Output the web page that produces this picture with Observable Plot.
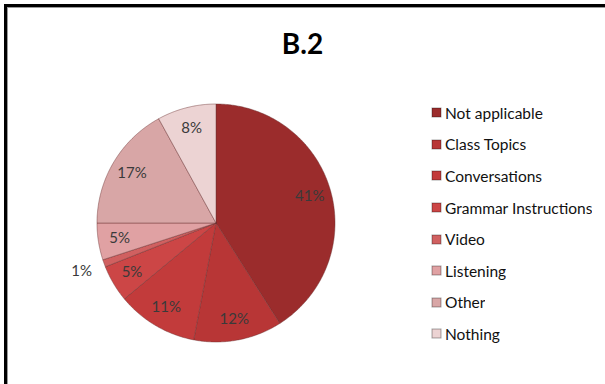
<!DOCTYPE html>
<html><head><meta charset="utf-8">
<script src="https://cdn.jsdelivr.net/npm/d3@7"></script>
<script src="https://cdn.jsdelivr.net/npm/@observablehq/plot@0.6"></script>
<style>
html,body{margin:0;padding:0;background:#fff;}
#wrap{position:relative;width:605px;height:384px;overflow:hidden;font-family:Lato,sans-serif;background:#fff;}
#frame{position:absolute;left:4px;top:4px;right:-20px;bottom:-20px;border-left:3px solid #000;border-top:3px solid #000;box-shadow:inset 1px 1px 0 #9a9a9a;}
#title{position:absolute;left:0;width:605px;top:30px;text-align:center;font-weight:bold;font-size:28px;line-height:27px;font-family:Lato,sans-serif;color:#000;}
#chart{position:absolute;left:0;top:0;}
#legend{position:absolute;left:432px;top:97px;}
#legend .lg-swatch{height:31.6px;padding:0;}
#legend .lg-swatch svg{margin-right:4px;}
#legend .lg-swatch svg rect{stroke:rgba(0,0,0,0.35);stroke-width:1px;}
</style>
</head><body>
<div id="wrap"><div id="frame"></div><div id="chart"></div><div id="title">B.2</div><div id="legend"></div></div>
<script>
const categories = ["Not applicable","Class Topics","Conversations","Grammar Instructions","Video","Listening","Other","Nothing"];
const values = [41, 12, 11, 5, 1, 5, 17, 8];
const colors = ["#9b2c2c","#b83636","#c23b3b","#cc4646","#d06060","#e0a1a3","#d8a6a6","#ecd3d3"];

const cx = 215.5, cy = 222.5, r = 119;
const arcs = d3.pie().value(d => d).sort(null)(values);
const slices = [];
const labels = [];
arcs.forEach((a, i) => {
  const cat = categories[i];
  const n = Math.max(4, Math.ceil((a.endAngle - a.startAngle) / 0.01));
  slices.push({cat, x: 0, y: 0});
  for (let j = 0; j <= n; j++) {
    const t = a.startAngle + (a.endAngle - a.startAngle) * j / n;
    slices.push({cat, x: Math.sin(t), y: Math.cos(t)});
  }
  slices.push({cat, x: 0, y: 0});
  const mid = (a.startAngle + a.endAngle) / 2;
  const k = values[i] < 2 ? 1.2 : 0.82;
  labels.push({x: k * Math.sin(mid), y: k * Math.cos(mid), text: values[i] + "%"});
});

const chart = Plot.plot({
  width: 605, height: 384, margin: 0,
  x: {domain: [-1, 1], range: [cx - r, cx + r], axis: null},
  y: {domain: [-1, 1], range: [cy + r, cy - r], axis: null},
  color: {type: "ordinal", domain: categories, range: colors},
  style: {background: "transparent"},
  marks: [
    Plot.line(slices, {x: "x", y: "y", z: "cat", fill: "cat", stroke: "#6a3030", strokeOpacity: 0.45, strokeWidth: 1, curve: "linear"}),
    Plot.text(labels, {x: "x", y: "y", text: "text", fill: "#3a3a3a", fontSize: 15, fontFamily: "Lato, sans-serif"})
  ]
});
document.getElementById("chart").appendChild(chart);

const legend = Plot.legend({
  color: {type: "ordinal", domain: categories, range: colors},
  columns: 1, swatchSize: 9, className: "lg",
  style: {fontFamily: "Lato, sans-serif", fontSize: "15.5px", color: "#111", background: "transparent"}
});
document.getElementById("legend").appendChild(legend);
</script>
</body></html>
